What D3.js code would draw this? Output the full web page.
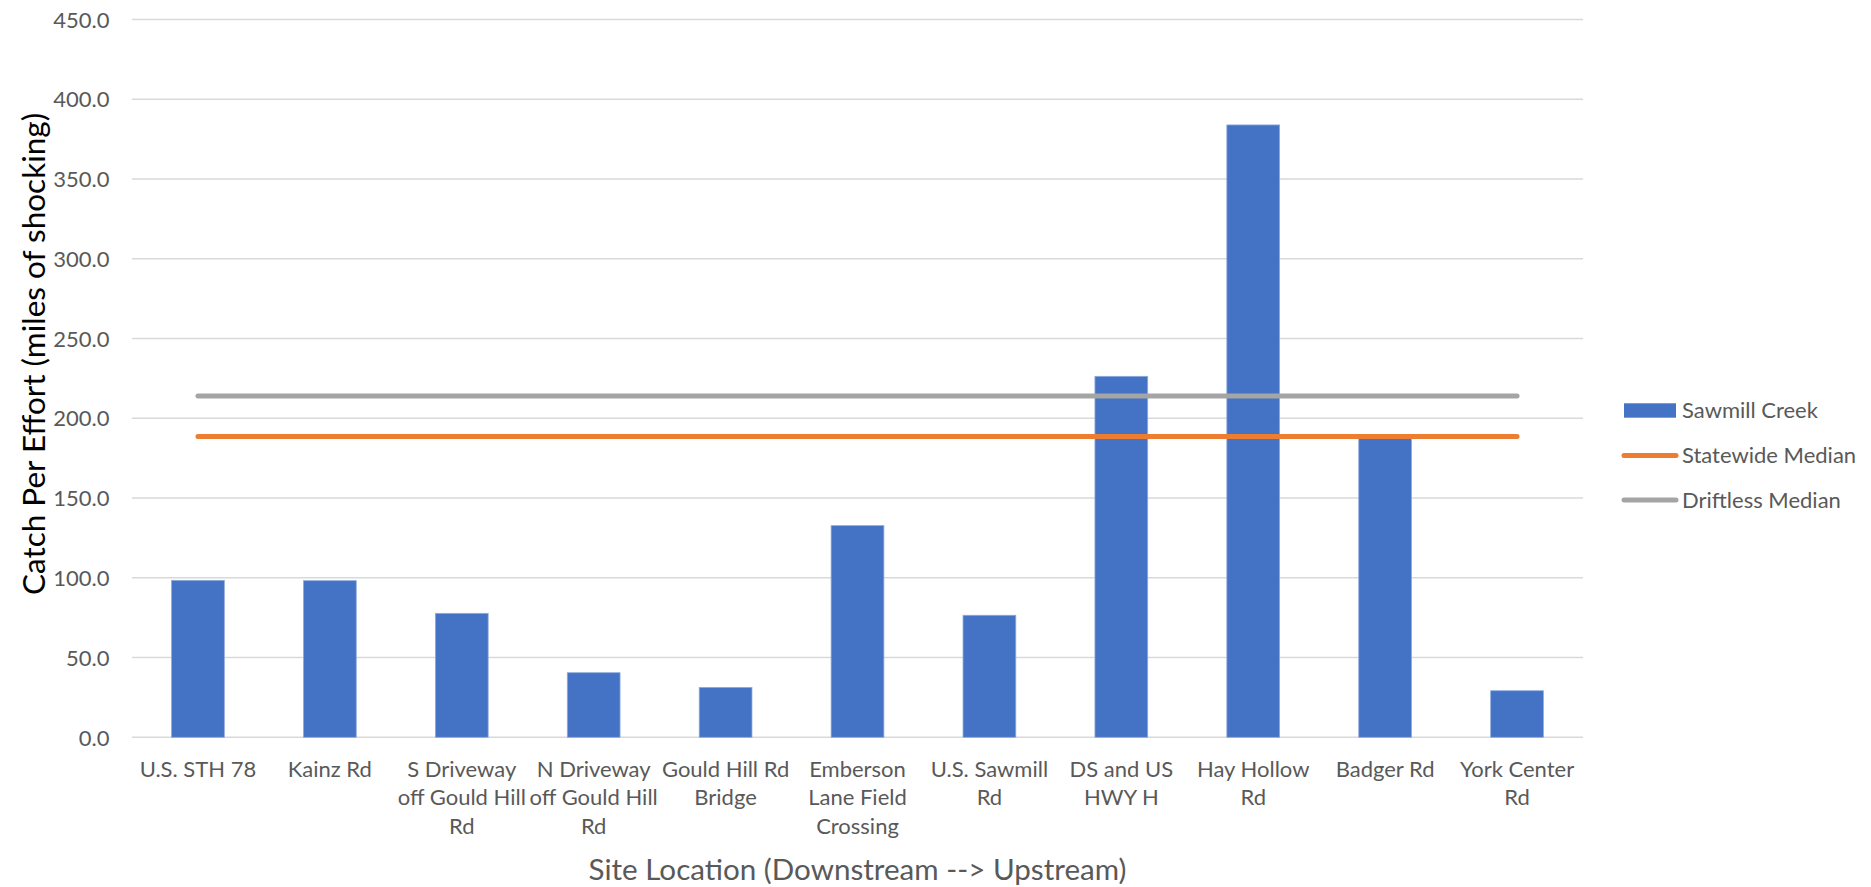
<!DOCTYPE html>
<html>
<head>
<meta charset="utf-8">
<script src="https://cdn.jsdelivr.net/npm/d3@7"></script>
<style>
  html, body { margin: 0; padding: 0; background: #fff; }
  svg { display: block; }
  text { font-family: Lato, "Open Sans", sans-serif; }
</style>
</head>
<body>
<svg id="chart" width="1871" height="887"></svg>
<script>
// ---- data ----
const categories = [
  "U.S. STH 78",
  "Kainz Rd",
  "S Driveway\noff Gould Hill\nRd",
  "N Driveway\noff Gould Hill\nRd",
  "Gould Hill Rd\nBridge",
  "Emberson\nLane Field\nCrossing",
  "U.S. Sawmill\nRd",
  "DS and US\nHWY H",
  "Hay Hollow\nRd",
  "Badger Rd",
  "York Center\nRd"
];
const sawmillCreek = [98.4, 98.2, 77.7, 40.5, 31.3, 132.7, 76.5, 226.3, 383.9, 187.5, 29.2];
const statewideMedian = [188.5, 188.5, 188.5, 188.5, 188.5, 188.5, 188.5, 188.5, 188.5, 188.5, 188.5];
const driftlessMedian = [214.0, 214.0, 214.0, 214.0, 214.0, 214.0, 214.0, 214.0, 214.0, 214.0, 214.0];
const yTicks = [0, 50, 100, 150, 200, 250, 300, 350, 400, 450];
const seriesNames = ["Sawmill Creek", "Statewide Median", "Driftless Median"];
const xTitle = "Site Location (Downstream --> Upstream)";
const yTitle = "Catch Per Effort (miles of shocking)";

// ---- layout ----
const plot = { left: 132, right: 1583, top: 19.5, bottom: 737.3 };
const colors = { bar: "#4472C4", state: "#ED7D31", drift: "#A5A5A5", grid: "#D9D9D9", text: "#595959" };

const svg = d3.select("#chart");

const x = d3.scaleBand()
  .domain(categories)
  .range([plot.left, plot.right])
  .paddingInner(0.6)
  .paddingOuter(0.3);

const y = d3.scaleLinear()
  .domain([0, 450])
  .range([plot.bottom, plot.top]);

// gridlines
svg.append("g")
  .selectAll("line")
  .data(yTicks)
  .join("line")
  .attr("x1", plot.left)
  .attr("x2", plot.right)
  .attr("y1", d => y(d))
  .attr("y2", d => y(d))
  .attr("stroke", colors.grid)
  .attr("stroke-width", 1.5);

// y axis labels
const yAxis = d3.axisLeft(y).tickValues(yTicks).tickFormat(d3.format(".1f")).tickSize(0).tickPadding(0);
const yg = svg.append("g").attr("transform", `translate(${109.5},0)`).call(yAxis);
yg.select(".domain").remove();
yg.selectAll("text")
  .attr("fill", colors.text)
  .style("font-size", "22px")
  .attr("dy", "0.35em");

// bars
svg.append("g")
  .selectAll("rect")
  .data(sawmillCreek)
  .join("rect")
  .attr("x", (d, i) => x(categories[i]))
  .attr("width", x.bandwidth())
  .attr("y", d => y(d))
  .attr("height", d => y(0) - y(d))
  .attr("fill", colors.bar)
  .attr("stroke", "#8FAADC")
  .attr("stroke-width", 0.8);

// median lines
const lineGen = d3.line()
  .x((d, i) => x(categories[i]) + x.bandwidth() / 2)
  .y(d => y(d));

svg.append("path")
  .datum(driftlessMedian)
  .attr("d", lineGen)
  .attr("fill", "none")
  .attr("stroke", colors.drift)
  .attr("stroke-width", 5)
  .attr("stroke-linecap", "round");

svg.append("path")
  .datum(statewideMedian)
  .attr("d", lineGen)
  .attr("fill", "none")
  .attr("stroke", colors.state)
  .attr("stroke-width", 5)
  .attr("stroke-linecap", "round");

// x category labels
const xg = svg.append("g");
categories.forEach((c, i) => {
  const cx = x(c) + x.bandwidth() / 2;
  const t = xg.append("text")
    .attr("x", cx)
    .attr("y", 777)
    .attr("text-anchor", "middle")
    .attr("fill", colors.text)
    .style("font-size", "22px");
  c.split("\n").forEach((line, j) => {
    t.append("tspan")
      .attr("x", cx)
      .attr("y", 777 + j * 28.3)
      .text(line);
  });
});

// axis titles
svg.append("text")
  .attr("x", (plot.left + plot.right) / 2)
  .attr("y", 880)
  .attr("text-anchor", "middle")
  .attr("fill", colors.text)
  .style("font-size", "29.6px")
  .text(xTitle);

svg.append("text")
  .attr("transform", `translate(45,${354}) rotate(-90)`)
  .attr("text-anchor", "middle")
  .attr("fill", "#000")
  .style("font-size", "31.5px")
  .text(yTitle);

// legend
const legendY = [410.5, 455.5, 500];
const lg = svg.append("g");
lg.append("rect")
  .attr("x", 1624).attr("y", legendY[0] - 7.2)
  .attr("width", 52).attr("height", 14.4)
  .attr("fill", colors.bar);
[[colors.state, legendY[1]], [colors.drift, legendY[2]]].forEach(([col, ly]) => {
  lg.append("line")
    .attr("x1", 1624).attr("x2", 1676)
    .attr("y1", ly).attr("y2", ly)
    .attr("stroke", col).attr("stroke-width", 5)
    .attr("stroke-linecap", "round");
});
seriesNames.forEach((n, i) => {
  lg.append("text")
    .attr("x", 1682)
    .attr("y", legendY[i])
    .attr("dy", "0.35em")
    .attr("fill", colors.text)
    .style("font-size", "22px")
    .text(n);
});
</script>
</body>
</html>
